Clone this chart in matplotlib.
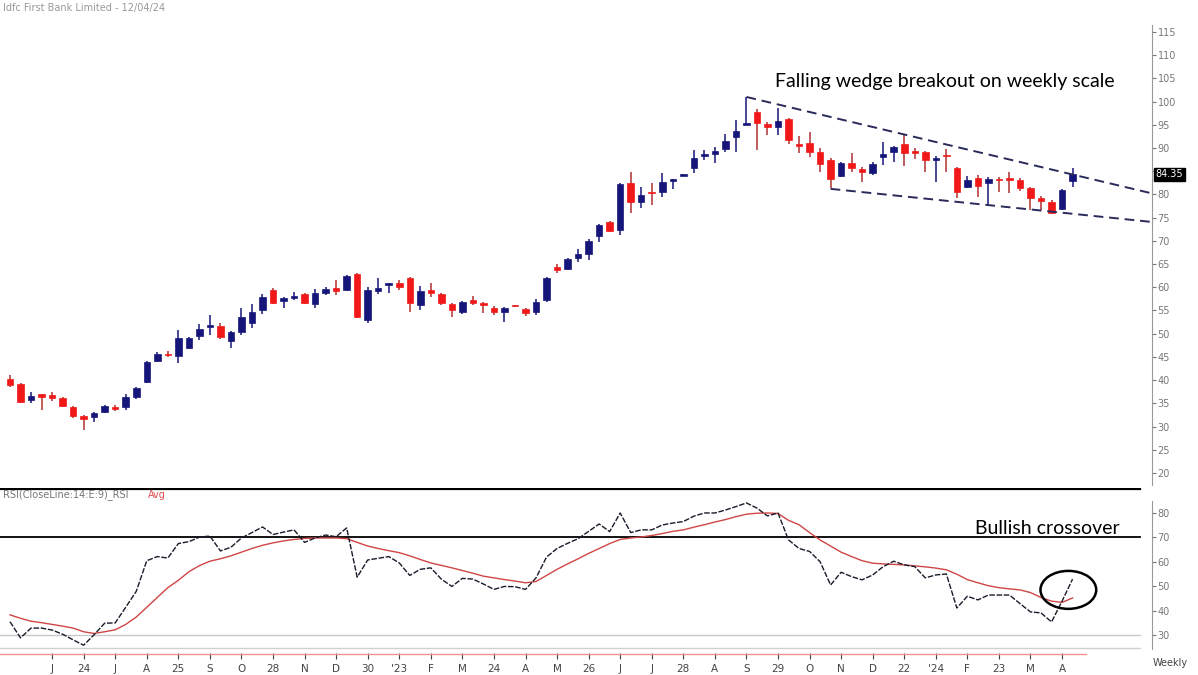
import numpy as np
import matplotlib.pyplot as plt
from matplotlib.patches import Ellipse

# weekly candles, oldest first
opens = [40.3, 39.1, 35.7, 36.9, 36.8, 36.2, 34.2, 32.3, 32.0, 33.2,
         34.1, 34.3, 36.3, 39.6, 44.1, 45.7, 45.2, 46.9, 49.4, 51.5,
         51.6, 48.4, 50.3, 52.3, 55.1, 59.4, 57.0, 57.7, 58.5, 56.4,
         58.8, 59.8, 59.4, 62.8, 53.0, 59.1, 60.5, 60.9, 62.0, 56.2,
         59.4, 58.5, 56.4, 54.7, 57.2, 56.7, 55.5, 54.7, 56.1, 55.3,
         54.7, 57.2, 64.4, 63.9, 66.3, 67.2, 71.0, 74.1, 72.3, 82.5,
         78.4, 80.6, 80.5, 82.9, 84.0, 85.7, 88.3, 88.8, 89.8, 92.4,
         95.0, 97.8, 95.2, 94.5, 96.2, 90.8, 91.1, 89.1, 87.4, 84.0,
         86.8, 85.5, 84.6, 88.1, 89.1, 90.9, 89.3, 89.1, 87.4, 88.6,
         85.7, 81.6, 83.5, 82.5, 83.3, 83.3, 83.1, 81.4, 79.2, 78.4,
         76.9, 82.9]
highs = [41.0, 39.3, 37.5, 37.0, 37.5, 36.3, 34.5, 32.4, 33.1, 34.7,
         34.6, 36.9, 38.6, 44.2, 46.0, 46.2, 50.8, 49.3, 52.1, 54.0,
         52.3, 50.6, 55.5, 56.3, 58.5, 59.8, 58.0, 59.0, 58.7, 59.6,
         60.0, 61.5, 62.6, 63.0, 60.0, 62.0, 61.0, 61.5, 62.2, 60.3,
         61.0, 58.8, 56.6, 57.0, 58.2, 56.8, 56.0, 55.8, 56.2, 55.5,
         57.5, 62.2, 65.0, 66.3, 68.2, 70.3, 73.6, 74.3, 82.5, 84.8,
         81.5, 82.5, 84.6, 83.4, 84.5, 89.6, 89.5, 90.2, 93.0, 96.0,
         101.0, 98.3, 95.6, 98.6, 96.5, 92.5, 93.4, 90.0, 87.8, 87.0,
         88.9, 86.0, 86.9, 91.3, 90.4, 92.8, 90.0, 89.4, 88.2, 89.8,
         86.0, 84.0, 84.2, 83.7, 83.7, 84.8, 83.5, 81.6, 79.6, 78.7,
         81.2, 85.7]
lows = [38.5, 35.0, 35.0, 33.5, 35.5, 34.2, 31.8, 29.3, 31.0, 33.0,
        33.3, 33.6, 36.0, 39.3, 43.9, 44.9, 43.7, 46.6, 48.7, 49.8,
        48.9, 46.9, 49.7, 51.3, 54.2, 56.3, 55.5, 57.2, 56.4, 55.6,
        58.3, 58.4, 59.2, 53.4, 52.3, 58.6, 58.7, 59.5, 54.7, 55.2,
        57.9, 56.2, 53.6, 54.2, 56.2, 54.4, 54.0, 52.5, 55.8, 53.9,
        54.0, 56.8, 63.0, 63.7, 65.4, 65.8, 69.7, 71.8, 71.2, 76.0,
        77.0, 77.7, 79.4, 81.2, 83.9, 84.6, 87.4, 86.8, 89.2, 89.1,
        94.9, 89.6, 92.8, 92.8, 90.9, 89.0, 88.1, 84.8, 81.4, 83.8,
        84.8, 82.7, 84.2, 86.3, 87.0, 86.1, 87.6, 84.8, 82.7, 84.8,
        79.2, 81.3, 79.4, 77.7, 80.5, 80.3, 80.7, 76.6, 76.6, 75.8,
        76.7, 81.6]
closes = [39.0, 35.3, 36.5, 36.3, 36.2, 34.4, 32.3, 31.6, 32.9, 34.4,
          33.7, 36.3, 38.3, 43.9, 45.6, 45.3, 49.0, 49.0, 51.0, 51.7,
          49.3, 50.3, 53.6, 54.7, 57.9, 56.6, 57.7, 58.2, 56.6, 58.7,
          59.6, 59.1, 62.4, 53.6, 59.4, 59.8, 60.9, 60.1, 56.6, 59.2,
          58.7, 56.6, 55.1, 56.8, 56.6, 56.2, 54.7, 55.5, 55.9, 54.5,
          56.8, 62.0, 63.8, 66.1, 67.2, 70.0, 73.4, 72.1, 82.2, 78.4,
          79.9, 80.2, 82.7, 83.3, 84.4, 87.8, 88.7, 89.3, 91.5, 93.7,
          95.4, 95.4, 94.5, 95.8, 91.7, 90.5, 89.1, 86.6, 83.3, 86.8,
          85.7, 84.8, 86.6, 88.7, 90.2, 88.9, 89.0, 87.4, 87.7, 88.2,
          80.5, 83.1, 81.8, 83.3, 83.0, 83.1, 81.4, 79.2, 78.6, 76.0,
          81.0, 84.35]

rsi = [35.6, 29.0, 33.0, 33.0, 32.2, 30.5, 28.2, 26.0, 30.3, 35.0,
       35.1, 41.5, 48.0, 60.5, 62.2, 61.6, 67.5, 68.3, 70.1, 70.6,
       64.5, 66.0, 69.8, 72.0, 74.3, 71.2, 72.2, 73.1, 68.0, 69.8,
       71.0, 70.3, 73.9, 53.8, 60.8, 61.5, 62.2, 59.6, 54.5, 57.0,
       57.6, 53.0, 50.0, 53.3, 53.0, 51.0, 48.8, 50.0, 49.9, 48.8,
       53.5, 62.0, 65.5, 67.6, 69.5, 72.5, 75.5, 72.4, 80.0, 72.0,
       73.1, 73.1, 75.1, 75.9, 76.5, 78.7, 80.0, 80.0, 81.2, 82.6,
       84.1, 82.0, 78.8, 80.0, 69.0, 65.5, 64.3, 60.1, 50.6, 55.8,
       54.0, 52.7, 54.7, 58.1, 60.3, 58.8, 58.1, 53.5, 54.7, 55.1,
       41.2, 46.0, 44.5, 46.5, 46.5, 46.5, 43.0, 39.6, 39.2, 35.5,
       44.0, 53.0]
rsi_avg = [38.4, 37.0, 35.8, 35.2, 34.5, 33.8, 33.0, 31.5, 30.8, 31.5,
           32.3, 34.5, 37.5, 41.5, 45.5, 49.5, 52.5, 56.0, 58.5, 60.3,
           61.3, 62.5, 64.0, 65.5, 66.8, 67.8, 68.6, 69.2, 69.6, 69.8,
           69.8, 69.8, 69.5, 68.0, 66.5, 65.5, 64.6, 63.8, 62.5, 61.0,
           59.6, 58.6, 57.6, 56.5, 55.4, 54.2, 53.5, 52.8, 52.2, 51.5,
           52.0, 54.5, 57.0, 59.2, 61.3, 63.5, 65.5, 67.5, 69.2, 69.8,
           70.2, 70.8, 71.6, 72.5, 73.1, 74.2, 75.2, 76.3, 77.3, 78.5,
           79.5, 79.9, 80.0, 79.8, 77.0, 75.2, 72.0, 69.0, 66.5, 64.0,
           62.2, 60.5, 59.5, 59.2, 59.0, 58.8, 58.4, 58.0, 57.5, 56.8,
           55.0, 52.8, 51.5, 50.3, 49.5, 49.0, 48.6, 47.5, 45.5, 44.0,
           43.5, 45.3]

date_labels = ["J", "24", "J", "A", "25", "S", "O", "28", "N", "D", "30",
               "'23", "F", "M", "24", "A", "M", "26", "J", "J", "28", "A",
               "S", "29", "O", "N", "D", "22", "'24", "F", "23", "M", "A"]
date_pos = [4 + 3 * k for k in range(len(date_labels))]

price_ticks = list(range(20, 120, 5))
rsi_ticks = [30, 40, 50, 60, 70, 80]

# wedge trendlines (candle index, price)
wedge_top = [(70, 101.0), (108.4, 80.3)]
wedge_bottom = [(78, 81.2), (108.4, 74.1)]
last_close = 84.35

UP = "#16167a"
DOWN = "#f01818"

W, H = 1198, 675
fig = plt.figure(figsize=(W / 100, H / 100), dpi=100)


def box(l, t, r, b):
    return [l / W, 1 - b / H, (r - l) / W, (b - t) / H]


ax = fig.add_axes(box(0, 25, 1152, 485))
rx = fig.add_axes(box(0, 488, 1152, 656))

xlim = (-0.95, 108.55)

# --- price candles
n = len(closes)
idx = np.arange(n)
o = np.array(opens)
c = np.array(closes)
hi = np.array(highs)
lo = np.array(lows)
up = c >= o
cols = np.where(up, UP, DOWN)
wick_cols = np.where(up, UP, "#b03030")
ax.vlines(idx, lo, hi, colors=wick_cols, lw=1.1, zorder=2)
bottoms = np.minimum(o, c)
heights = np.maximum(np.abs(c - o), 0.35)
ax.bar(idx, heights, bottom=bottoms, width=0.62, color=cols,
       edgecolor=cols, lw=0.5, zorder=3)

for line in (wedge_top, wedge_bottom):
    xs, ys = zip(*line)
    ax.plot(xs, ys, color="#2a2a5a", lw=1.4, dashes=(5, 3), zorder=4,
            clip_on=False)

ax.set_xlim(*xlim)
ax.set_ylim(17.4, 116.5)
for s in ("left", "top", "bottom"):
    ax.spines[s].set_visible(False)
ax.spines["right"].set_color("#999999")
ax.set_xticks([])
ax.yaxis.tick_right()
ax.set_yticks(price_ticks)
# the 85 label sits under the last-price box
ax.set_yticklabels(["" if v == 85 else str(v) for v in price_ticks])
ax.tick_params(axis="y", labelsize=7, colors="#777777", length=3,
               pad=1)
ax.text(1.003, last_close, f"{last_close:.2f}", transform=ax.get_yaxis_transform(),
        fontsize=7, color="white", va="center", ha="left", zorder=10,
        bbox=dict(boxstyle="square,pad=0.15", fc="black", ec="black"))

# --- RSI pane
rx.set_xlim(*xlim)
rx.set_ylim(21.6, 90.2)
rx.plot(idx, rsi_avg, color="#d04545", lw=1.0, zorder=3)
rx.plot(idx, rsi, color="#1a1a2a", lw=1.0, dashes=(4, 1.2), zorder=4)
xr = 1140 / 1152
rx.axhline(89.8, xmax=xr, color="black", lw=1.6)
rx.axhline(70, xmax=xr, color="black", lw=1.3)
rx.axhline(30, xmax=xr, color="#c8c8c8", lw=1.0)
rx.axhline(25, xmax=xr, color="#d0d0d0", lw=1.0)
rx.plot([xlim[0], 102.3], [22.6, 22.6], color="#f09090", lw=1.0)

rx.add_patch(Ellipse((100.6, 48.6), 5.3, 15.5, fill=False, ec="black",
                     lw=1.8, zorder=5))

for s in ("left", "top", "bottom"):
    rx.spines[s].set_visible(False)
rx.spines["right"].set_color("#999999")
rx.spines["right"].set_bounds(24.5, 85)
rx.yaxis.tick_right()
rx.set_yticks(rsi_ticks)
rx.tick_params(axis="y", labelsize=7, colors="#777777", length=3, pad=1)
rx.set_xticks(date_pos)
rx.set_xticklabels(date_labels)
rx.tick_params(axis="x", labelsize=7.5, colors="#444444", length=4,
               direction="inout", pad=4)
for t in rx.get_xticklines():
    t.set_color("#aaaaaa")

# --- texts
fig.text(3 / W, 1 - 8 / H, "Idfc First Bank Limited - 12/04/24",
         fontsize=7, color="#999999", va="center")
fig.text(3 / W, 1 - 495 / H, "RSI(CloseLine:14:E:9)_RSI", fontsize=7,
         color="#777777", va="center")
fig.text(148 / W, 1 - 495 / H, "Avg", fontsize=7, color="#e05050",
         va="center")
fig.text(775 / W, 1 - 82 / H, "Falling wedge breakout on weekly scale",
         fontsize=14, family="Lato", color="black", va="center")
fig.text(975 / W, 1 - 528 / H, "Bullish crossover", fontsize=14,
         family="Lato", color="black", va="center")
fig.text(1153 / W, 1 - 663 / H, "Weekly", fontsize=7, color="#444444",
         va="center")

fig.savefig("out.png", dpi=100)
